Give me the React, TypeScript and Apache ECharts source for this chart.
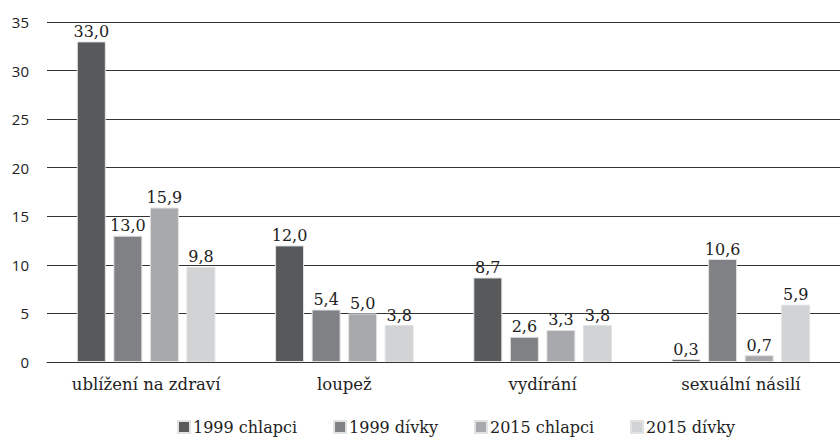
import React, { useEffect, useRef } from "react";
import * as echarts from "echarts";

const categories = ["ublížení na zdraví", "loupež", "vydírání", "sexuální násilí"];
const seriesNames = ["1999 chlapci", "1999 dívky", "2015 chlapci", "2015 dívky"];
const boys1999 = [33.0, 12.0, 8.7, 0.3];
const girls1999 = [13.0, 5.4, 2.6, 10.6];
const boys2015 = [15.9, 5.0, 3.3, 0.7];
const girls2015 = [9.8, 3.8, 3.8, 5.9];
const colors = ["#58595b", "#808184", "#a7a9ac", "#d1d3d4"];
const yTicks = { min: 0, max: 35, interval: 5 };

const SERIF = "'DejaVu Serif', serif";

export default function App() {
  const ref = useRef<HTMLDivElement>(null);
  useEffect(() => {
    if (!ref.current) return;
    const chart = echarts.init(ref.current, null, { renderer: "svg" });
    const values = [boys1999, girls1999, boys2015, girls2015];
    chart.setOption({
      animation: false,
      grid: { left: 47, top: 22, width: 800, height: 340, containLabel: false },
      legend: {
        top: 418,
        left: 177,
        itemWidth: 12,
        itemHeight: 12,
        itemGap: 36,
        icon: "rect",
        padding: 0,
        textStyle: { fontFamily: SERIF, fontSize: 16, lineHeight: 18, color: "#222", padding: [0, 0, 0, -2] },
        data: seriesNames,
      },
      xAxis: {
        type: "category",
        data: categories,
        axisLine: { show: true, lineStyle: { color: "#333", width: 1 } },
        axisTick: { show: false },
        axisLabel: { fontFamily: SERIF, fontSize: 16.5, color: "#222", margin: 14 },
      },
      yAxis: {
        type: "value",
        min: yTicks.min,
        max: yTicks.max,
        interval: yTicks.interval,
        axisLine: { show: false },
        axisTick: { show: false },
        axisLabel: { fontFamily: "'Open Sans', sans-serif", fontSize: 15, color: "#222", margin: 18 },
        splitLine: { lineStyle: { color: "#333", width: 1 } },
      },
      series: seriesNames.map((name, i) => ({
        name,
        type: "bar",
        data: values[i],
        barWidth: 29,
        barGap: "26%",
        itemStyle: { color: colors[i], borderColor: "#e2e2e2", borderWidth: 1 },
        label: {
          show: true,
          position: "top",
          distance: 2,
          fontFamily: SERIF,
          fontSize: 16,
          color: "#222",
          formatter: (p: any) => p.value.toFixed(1).replace(".", ","),
        },
      })),
    });
    return () => chart.dispose();
  }, []);
  return (
    <div
      ref={ref}
      style={{ position: "fixed", left: 0, top: 0, width: 840, height: 438, background: "#fff" }}
    />
  );
}
